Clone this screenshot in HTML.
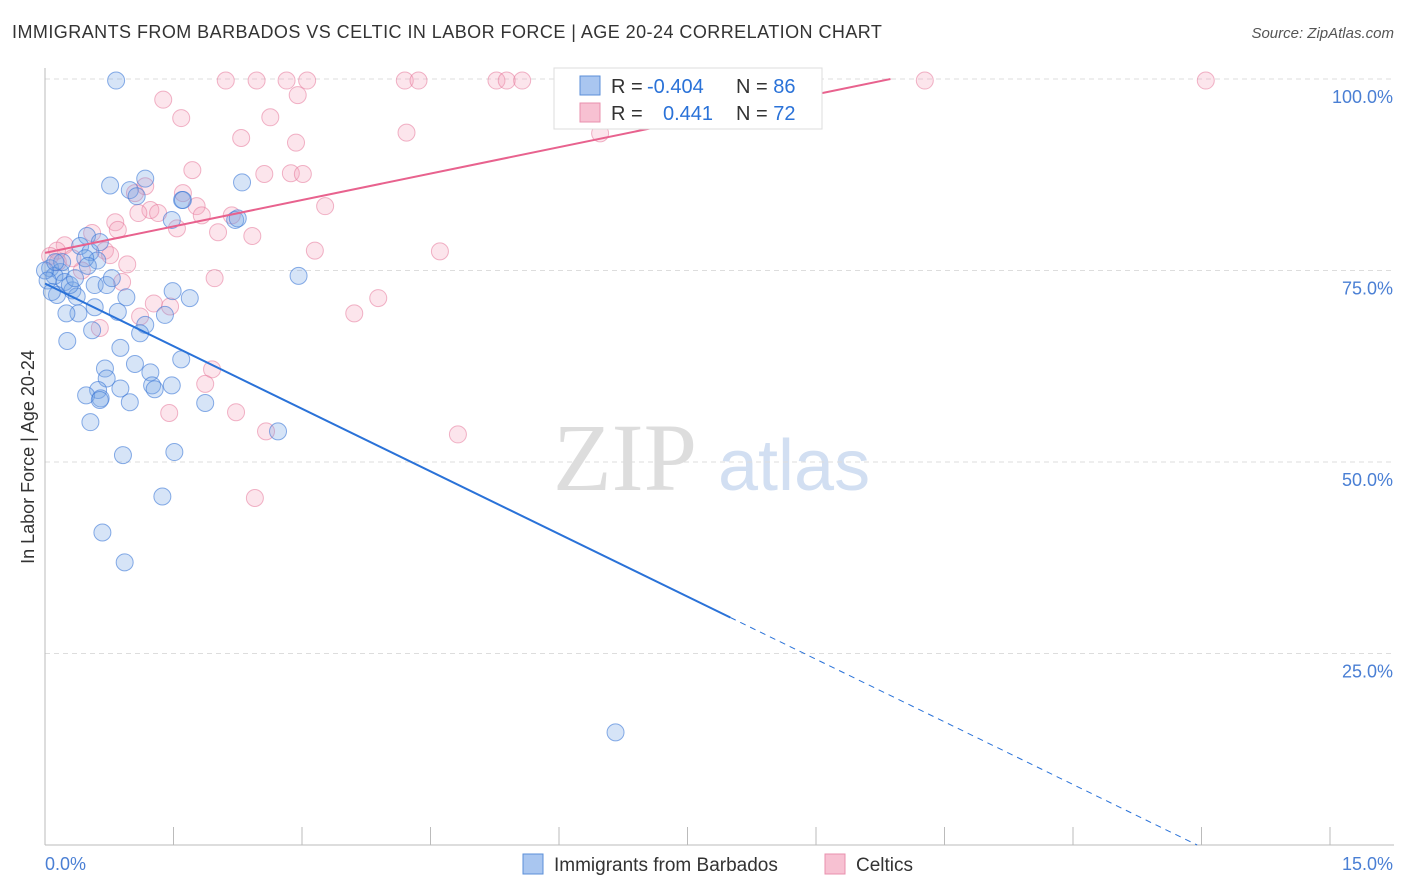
<!DOCTYPE html>
<html><head><meta charset="utf-8"><style>
body{margin:0;background:#fff;font-family:"Liberation Sans",sans-serif;}
#wrap{position:relative;width:1406px;height:892px;overflow:hidden;}
.t{position:absolute;white-space:nowrap;}
</style></head><body>
<div id="wrap">
<div class="t" style="left:12px;top:22px;font-size:18px;color:#333;letter-spacing:0.45px;">IMMIGRANTS FROM BARBADOS VS CELTIC IN LABOR FORCE | AGE 20-24 CORRELATION CHART</div>
<div class="t" style="right:12px;top:25px;font-size:15px;color:#555;font-style:italic;">Source: ZipAtlas.com</div>
<svg id="svg" width="1406" height="892" style="position:absolute;left:0;top:0;"></svg>
</div>
<script>
const blueX=[0.83,0.76,1.17,0.99,1.07,1.60,2.30,2.22,1.48,0.49,0.41,0.53,0.61,0.47,0.06,0.18,0.11,0.23,0.32,0.37,0.14,0.58,0.72,0.78,0.95,0.58,0.39,0.25,0.85,1.49,1.69,1.40,1.17,1.11,0.55,0.26,2.96,0.88,1.59,1.05,0.70,1.23,0.72,0.88,1.25,1.28,1.48,0.62,0.48,0.65,0.64,0.99,1.87,0.53,2.72,0.91,1.51,1.37,0.67,0.93,6.66,0,0.03,0.08,0.2,0.29,0.35,0.64,0.5,0.12,2.25,1.61];
const blueY=[99.8,86.1,87.0,85.5,84.7,84.2,86.5,81.6,81.6,79.5,78.2,77.4,76.3,76.6,75.3,74.8,74.3,73.5,72.4,71.6,71.8,73.1,73.1,74.0,71.5,70.2,69.4,69.4,69.6,72.3,71.4,69.2,67.9,66.8,67.2,65.8,74.3,64.9,63.4,62.8,62.2,61.7,60.9,59.6,60.0,59.5,60.0,59.4,58.7,58.3,58.1,57.8,57.7,55.2,54.0,50.9,51.3,45.5,40.8,36.9,14.7,75.0,73.7,72.2,76.1,73.1,74.0,78.7,75.6,76.1,81.8,84.2];
const pinkX=[2.11,2.47,2.82,3.06,4.20,4.36,5.27,5.39,5.57,6.77,10.27,13.55,1.38,1.59,2.95,2.63,2.29,4.22,2.93,6.48,1.72,2.56,2.87,3.01,1.17,1.61,1.05,1.77,1.23,1.09,1.32,1.83,3.27,2.18,0.82,1.54,2.02,2.42,0.55,0.85,4.61,3.15,0.23,0.14,0.7,0.76,0.06,0.96,0.43,1.98,0.9,3.89,1.27,1.46,3.61,1.11,0.64,1.95,1.87,1.45,2.23,2.58,4.82,2.45,0.15,0.32];
const pinkY=[99.8,99.8,99.8,99.8,99.8,99.8,99.8,99.8,99.8,99.8,99.8,99.8,97.3,94.9,97.9,95.0,92.3,93.0,91.7,92.9,88.1,87.6,87.7,87.6,86.0,85.1,85.1,83.4,82.9,82.5,82.5,82.2,83.4,82.2,81.3,80.5,80.0,79.5,79.9,80.3,77.5,77.6,78.3,77.6,77.6,77.0,76.9,75.8,75.0,74.0,73.5,71.4,70.7,70.3,69.4,69.0,67.5,62.1,60.2,56.4,56.5,54.0,53.6,45.3,76.1,76.6];
const blueLine=[73.3,-5.45]; // intercept, slope
const pinkLine=[77.3,2.3];
const yTicks=[25,50,75,100];
const yTickLabels=["25.0%","50.0%","75.0%","100.0%"];
const xTicks=[0,1.5,3,4.5,6,7.5,9,10.5,12,13.5,15];

const X0=45,X1=1330,Y0=845,Y1=79;
const sx=v=>X0+(v/15)*(X1-X0);
const sy=v=>Y0-(v/100)*(Y0-Y1);
const svg=document.getElementById('svg');
const NS='http://www.w3.org/2000/svg';
function mk(tag,attrs){const e=document.createElementNS(NS,tag);for(const k in attrs)e.setAttribute(k,attrs[k]);svg.appendChild(e);return e;}

let w1=mk('text',{x:553,y:490,'font-size':96,'font-family':'Liberation Serif, serif',fill:'#ddd'});w1.textContent='ZIP';


let w2=mk('text',{x:718,y:490,'font-size':72,'font-family':'Liberation Sans, sans-serif',fill:'#d2dff2'});w2.textContent='atlas';



yTicks.forEach((t,i)=>{
  const g=mk('line',{x1:X0,x2:1394,y1:sy(t),y2:sy(t),stroke:'#ddd','stroke-dasharray':'5,4'});
  
  
  const l=mk('text',{x:1393,y:sy(t)+24,'text-anchor':'end','font-size':18,fill:'#4a7fd4'});l.textContent=yTickLabels[i];
  
  
});
let ax=mk('line',{x1:X0,x2:X0,y1:68,y2:Y0,stroke:'#bbb'});


let axx=mk('line',{x1:X0,x2:1394,y1:Y0,y2:Y0,stroke:'#bbb'});


xTicks.forEach(t=>{
  const tk=mk('line',{x1:sx(t),x2:sx(t),y1:Y0,y2:Y0-18,stroke:'#bbb'});
  
  
});
let xl0=mk('text',{x:45,y:870,'font-size':18,fill:'#4a7fd4'});xl0.textContent='0.0%';


let xl1=mk('text',{x:1393,y:870,'text-anchor':'end','font-size':18,fill:'#4a7fd4'});xl1.textContent='15.0%';


let yt=mk('text',{x:34,y:457,'font-size':18,fill:'#333','text-anchor':'middle',transform:'rotate(-90 34 457)'});yt.textContent='In Labor Force | Age 20-24';



pinkX.forEach((x,i)=>{
  const c=mk('circle',{cx:sx(x),cy:sy(pinkY[i]),r:8.5,fill:'rgba(244,160,185,0.28)',stroke:'rgba(230,120,155,0.55)','stroke-width':1});
  
  
});
blueX.forEach((x,i)=>{
  const c=mk('circle',{cx:sx(x),cy:sy(blueY[i]),r:8.5,fill:'rgba(120,165,230,0.3)',stroke:'rgba(60,120,215,0.6)','stroke-width':1});
  
  
});
const bAt=x=>blueLine[0]+blueLine[1]*x;
let bl=mk('line',{x1:sx(0),y1:sy(bAt(0)),x2:sx(8),y2:sy(bAt(8)),stroke:'#2a72d8','stroke-width':2});


const xe=-blueLine[0]/blueLine[1];
let bd=mk('line',{x1:sx(8),y1:sy(bAt(8)),x2:sx(xe),y2:sy(0),stroke:'#2a72d8','stroke-width':1,'stroke-dasharray':'6,5'});


const pAt=x=>pinkLine[0]+pinkLine[1]*x;
const pe=(100-pinkLine[0])/pinkLine[1];
let pl=mk('line',{x1:sx(0),y1:sy(pAt(0)),x2:sx(pe),y2:sy(100),stroke:'#e8628e','stroke-width':2});



let box=mk('rect',{x:554,y:68,width:268,height:61,fill:'#fff',stroke:'#ddd'});


[[0,'#a9c6f0','#5b8fd8','-0.404','86'],[1,'#f7c1d2','#e890ae','0.441','72']].forEach(r=>{
  const y=86+r[0]*27;
  const s=mk('rect',{x:580,y:y-10,width:20,height:19,fill:r[1],stroke:r[2]});
  
  
  const t=mk('text',{x:611,y:y+7,'font-size':20,fill:'#333'});
  t.innerHTML='R = <tspan fill="#2a72d8" x="'+(r[0]?663:647)+'">'+r[3]+'</tspan><tspan x="736" fill="#333">N = </tspan><tspan fill="#2a72d8">'+r[4]+'</tspan>';
  
  
});
[[523,'#a9c6f0','#5b8fd8','Immigrants from Barbados'],[825,'#f7c1d2','#e890ae','Celtics']].forEach(r=>{
  const s=mk('rect',{x:r[0],y:854,width:20,height:20,fill:r[1],stroke:r[2]});
  
  
  const t=mk('text',{x:r[0]+31,y:871,'font-size':19,fill:'#333'});t.textContent=r[3];
  
  
});
</script>
</body></html>
